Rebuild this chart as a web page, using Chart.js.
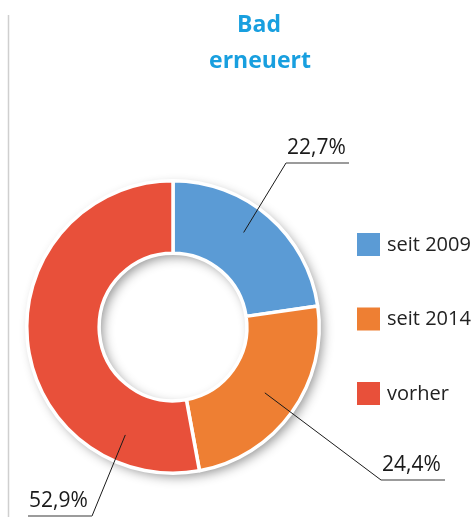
<html lang="de">
<head>
  <meta charset="UTF-8" />
  <title>Bad erneuert</title>
  <script src="https://cdn.jsdelivr.net/npm/chart.js"></script>
  <style>
    body { margin: 0; padding: 0; background: #fff; }
    canvas { display: block; }
  </style>
</head>
<body>
  <canvas id="chart" width="473" height="517"></canvas>

  <script>
    // data
    const labels = ['seit 2009', 'seit 2014', 'vorher'];
    const values = [22.7, 24.4, 52.9];
    const colors = ['#5b9bd5', '#ee7f33', '#e8503a'];
    const titleLines = ['Bad', 'erneuert'];

    // where the callouts sit (text box + where the leader touches the slice)
    const callouts = [
      { x: 286, y: 163, w: 63, side: 'left',  along: 0.45, radial: 118 },
      { x: 381, y: 480, w: 64, side: 'left',  along: 0.5,  radial: 113 },
      { x: 28,  y: 516, w: 64, side: 'right', along: 0.18, radial: 118 }
    ];

    const FONT = '"Open Sans", "Noto Sans", sans-serif';

    const fmt = v => v.toFixed(1).replace('.', ',') + '%';

    // shadow ring under the doughnut + frame line
    const backdrop = {
      id: 'backdrop',
      beforeDatasetsDraw(chart) {
        const ctx = chart.ctx;
        const arc = chart.getDatasetMeta(0).data[0];
        if (!arc) return;
        const { x, y, outerRadius, innerRadius } = arc.getProps(['x', 'y', 'outerRadius', 'innerRadius'], true);
        ctx.save();
        ctx.strokeStyle = '#cfcfcf';
        ctx.lineWidth = 1.5;
        ctx.beginPath();
        ctx.moveTo(8.5, 15);
        ctx.lineTo(8.5, 517);
        ctx.stroke();

        ctx.shadowColor = 'rgba(0,0,0,0.45)';
        ctx.shadowBlur = 12;
        ctx.shadowOffsetX = 4;
        ctx.shadowOffsetY = 4;
        ctx.fillStyle = '#fff';
        ctx.beginPath();
        ctx.arc(x, y, outerRadius - 1, 0, Math.PI * 2);
        ctx.arc(x, y, innerRadius + 1, 0, Math.PI * 2, true);
        ctx.fill('evenodd');
        ctx.restore();
      }
    };

    // title, legend and leader-line labels
    const annotations = {
      id: 'annotations',
      afterDatasetsDraw(chart) {
        const ctx = chart.ctx;
        const meta = chart.getDatasetMeta(0);
        ctx.save();

        // title
        ctx.fillStyle = '#189fdf';
        ctx.font = 'bold 23px ' + FONT;
        ctx.textAlign = 'center';
        ctx.textBaseline = 'alphabetic';
        ctx.fillText(titleLines[0], 259, 32);
        ctx.fillText(titleLines[1], 260, 68);

        // legend
        ctx.font = '20px ' + FONT;
        ctx.textAlign = 'left';
        ctx.textBaseline = 'middle';
        labels.forEach((lab, i) => {
          const top = 233 + i * 74.5;
          ctx.fillStyle = colors[i];
          ctx.fillRect(357, top, 23, 23);
          ctx.fillStyle = '#222';
          ctx.fillText(lab, 387, top + 12);
        });

        // callouts
        meta.data.forEach((arc, i) => {
          const c = callouts[i];
          const p = arc.getProps(['x', 'y', 'startAngle', 'endAngle'], true);
          const a = p.startAngle + c.along * (p.endAngle - p.startAngle);
          const ax = p.x + Math.cos(a) * c.radial;
          const ay = p.y + Math.sin(a) * c.radial;
          const ex = c.side === 'left' ? c.x : c.x + c.w;

          ctx.strokeStyle = '#1a1a1a';
          ctx.lineWidth = 1;
          ctx.beginPath();
          ctx.moveTo(ex, c.y);
          ctx.lineTo(ax, ay);
          ctx.stroke();

          ctx.strokeStyle = '#7a7a7a';
          ctx.lineWidth = 1.5;
          ctx.beginPath();
          ctx.moveTo(c.x, c.y);
          ctx.lineTo(c.x + c.w, c.y);
          ctx.stroke();

          ctx.fillStyle = '#1a1a1a';
          ctx.font = '21px ' + FONT;
          ctx.textAlign = 'left';
          ctx.textBaseline = 'alphabetic';
          ctx.fillText(fmt(values[i]), c.x + 1, c.y - 9);
        });
        ctx.restore();
      }
    };

    new Chart(document.getElementById('chart'), {
      type: 'doughnut',
      data: {
        labels: labels,
        datasets: [{
          data: values,
          backgroundColor: colors,
          borderColor: '#fff',
          borderWidth: 3.5
        }]
      },
      options: {
        responsive: false,
        animation: false,
        cutout: '50.5%',
        layout: { padding: { left: 25, top: 179, right: 152, bottom: 42 } },
        plugins: {
          legend: { display: false },
          tooltip: { enabled: false }
        }
      },
      plugins: [backdrop, annotations]
    });
  </script>
</body>
</html>
